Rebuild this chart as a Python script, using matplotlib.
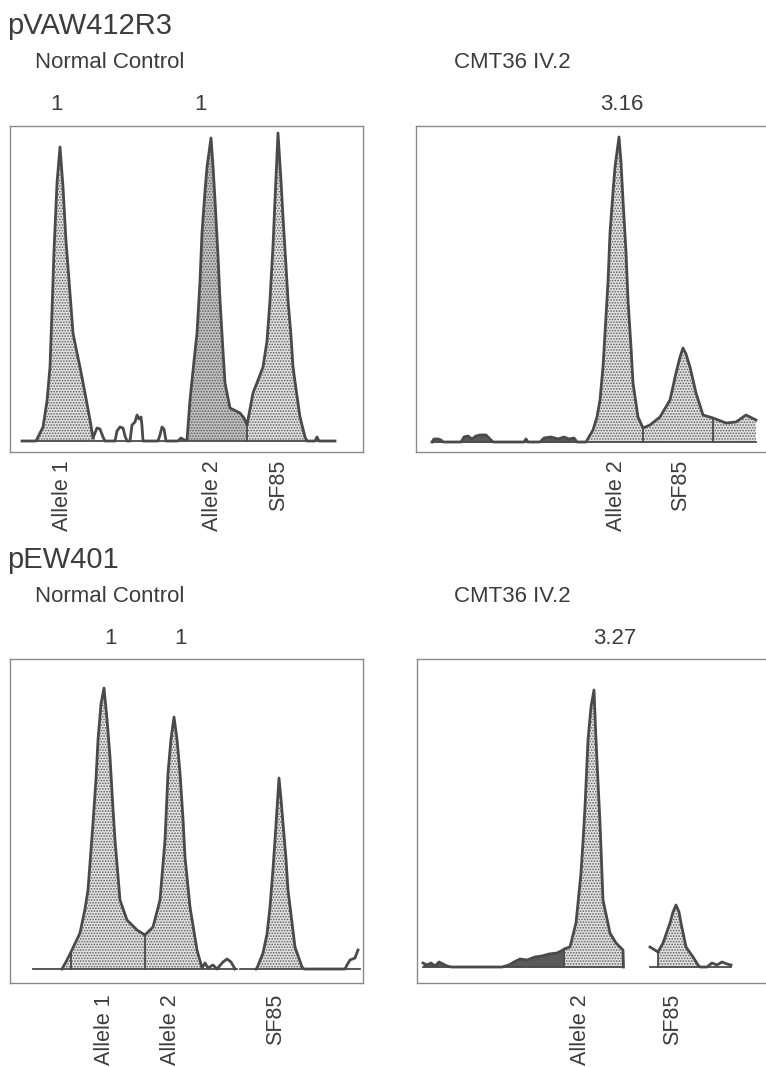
import numpy as np
import matplotlib
matplotlib.use("Agg")
import matplotlib.pyplot as plt

W, H = 766, 1067

# densitometer traces: x = distance along lane (px from box left), y = density (px above baseline)
tl_x = [12, 26, 33, 37, 40, 42, 44, 47, 50, 53, 56, 58, 63, 67, 70, 75, 80, 83, 85, 87, 90, 93, 95,
        105, 107, 110, 113, 115, 117, 120, 122, 125, 127, 129, 131, 132, 133, 148, 150, 152, 154, 156,
        168, 171, 174, 177, 180, 184, 187, 190, 192, 195, 197, 201, 203, 205, 208, 210, 213, 215, 220,
        230, 234, 237, 243, 250, 253, 257, 260, 263, 265, 268, 271, 273, 276, 278, 281, 283, 287, 290,
        295, 297, 305, 307, 309, 325]
tl_y = [0, 0, 14, 40, 74, 130, 190, 258, 294, 254, 200, 174, 108, 88, 74, 48, 21, 3, 8, 13, 12, 4, 0,
        0, 10, 14, 13, 5, 0, 0, 16, 19, 26, 22, 24, 15, 0, 0, 6, 14, 12, 0,
        0, 3, 1, 1, 41, 80, 108, 160, 208, 250, 274, 303, 275, 241, 185, 141, 90, 58, 33,
        28, 23, 16, 48, 66, 74, 100, 141, 195, 241, 308, 260, 224, 175, 141, 105, 74, 45, 24,
        4, 0, 0, 4, 0, 0]
tl_fill = [(26, 85), (177, 237), (237, 297)]
tl_dark = [(177, 237)]
tl_div = [237]
tl_base = [(12, 325)]
tl_noise = []

tr_x = [16, 18, 22, 25, 27, 45, 48, 52, 56, 60, 64, 70, 74, 77, 108, 110, 112, 124, 128, 135, 142,
        148, 153, 158, 161, 170, 177, 181, 184, 187, 189, 192, 194, 197, 199, 203, 205, 207, 210, 212,
        215, 217, 222, 227, 234, 244, 254, 260, 264, 267, 270, 274, 280, 287, 297, 310, 320, 330, 340]
tr_y = [0, 3, 3, 2, 0, 0, 5, 6, 3, 6, 7, 7, 3, 0, 0, 3, 0, 0, 4, 5, 3,
        5, 3, 4, 0, 0, 12, 25, 42, 75, 109, 160, 209, 250, 275, 305, 280, 242, 190, 142,
        95, 59, 25, 14, 17, 25, 42, 69, 85, 94, 88, 75, 49, 27, 24, 19, 20, 27, 22]
tr_fill = [(170, 340)]
tr_dark = []
tr_div = [227, 297]
tr_base = [(16, 340)]
tr_noise = [(16, 161)]

bl_x = [52, 57, 61, 70, 75, 78, 83, 86, 88, 91, 94, 97, 100, 103, 105, 110, 117, 127, 135, 143, 150,
        155, 158, 161, 164, 167, 170, 173, 175, 180, 187, 192, 195, 198, 203, 207, 213, 217, 221, 225,
        226, 246, 247, 253, 257, 260, 263, 265, 269, 271, 273, 276, 278, 285, 292, 294,
        335, 337, 340, 345, 348]
bl_y = [0, 9, 17, 36, 60, 79, 146, 190, 229, 265, 281, 250, 212, 160, 129, 69, 49, 39, 34, 42, 69,
        129, 196, 230, 252, 230, 196, 150, 112, 62, 19, 1, 6, 1, 4, 0, 7, 10, 7, 0,
        np.nan, 0, 1, 16, 35, 62, 100, 129, 191, 170, 146, 110, 79, 22, 2, 0,
        0, 4, 9, 11, 19]
bl_fill = [(52, 192), (247, 294)]
bl_dark = []
bl_div = [61, 135, 247]
bl_base = [(23, 227), (230, 350)]
bl_noise = []

br_x = [6, 10, 14, 18, 22, 26, 30, 34, 85, 92, 97, 103, 110, 118, 125, 132, 140, 146, 147, 153, 159,
        164, 166, 168, 171, 174, 177, 179, 181, 183, 186, 193, 199, 206, 206.5, 207,
        233, 241, 246, 253, 256, 259, 262, 264, 269, 276, 281, 283, 290, 295, 300, 305, 310, 314]
br_y = [4, 2, 4, 1, 5, 3, 1, 0, 0, 2, 5, 8, 7, 10, 11, 13, 14, 17, 18, 20, 44,
        94, 125, 160, 227, 260, 277, 227, 185, 144, 67, 34, 24, 17, 0, np.nan,
        20, 15, 24, 44, 55, 62, 55, 44, 20, 10, 2, 0, 0, 4, 2, 5, 3, 2]
br_fill = [(147, 206.5), (241, 281)]
br_dark = []
br_div = [147, 241]
br_base = [(6, 206), (233, 314)]
br_noise = [(6, 147)]

# panel boxes in image pixels: left, top, right, bottom, baseline
boxes = [(10, 126, 363, 452, 441), (416, 126, 780, 452, 442),
         (10, 659, 363, 983, 969), (417, 659, 780, 983, 967)]

probes = ["pVAW412R3", "pEW401"]
samples = ["Normal Control", "CMT36 IV.2"]
ratios_top = [["1", "1"], ["3.16"]]
ratios_bottom = [["1", "1"], ["3.27"]]
band_labels = [["Allele 1", "Allele 2", "SF85"], ["Allele 2", "SF85"],
               ["Allele 1", "Allele 2", "SF85"], ["Allele 2", "SF85"]]
band_pos = [[62, 212, 279], [617, 681], [105, 171, 276], [580, 673]]
ratio_pos = [[56, 200], [622], [110, 180], [615]]

plt.rcParams["font.family"] = ["Liberation Sans", "DejaVu Sans"]
plt.rcParams["hatch.linewidth"] = 0.8
txt = "#3c3c3c"
line_c = "#4a4a4a"

fig = plt.figure(figsize=(W / 100, H / 100), dpi=100)


def fpos(x, y):
    return x / W, 1 - y / H


def draw_panel(box, x, y, fills, dark, divs, bases, noise):
    left, top, right, bottom, base = box
    ax = fig.add_axes([left / W, 1 - bottom / H, (right - left) / W, (bottom - top) / H])
    ax.set_xlim(0, right - left)
    ax.set_ylim(-(bottom - base), base - top)
    ax.set_xticks([])
    ax.set_yticks([])
    for s in ax.spines.values():
        s.set_color("#8a8a8a")
        s.set_linewidth(1.0)
    x = np.asarray(x, float)
    y = np.asarray(y, float)
    ok = np.isfinite(y)
    for a, b in bases:
        ax.plot([a, b], [0, 0], color=line_c, lw=1.3, zorder=2)
    for a, b in fills:
        m = (x >= a) & (x <= b)
        col = "#c2c2c2" if (a, b) in dark else "#e2e2e2"
        ax.fill_between(x[m], 0, y[m], facecolor=col, edgecolor="#5e5e5e",
                        hatch="......", linewidth=0, zorder=1)
    for a, b in noise:
        m = (x >= a) & (x <= b)
        ax.fill_between(x[m], 0, y[m], color="#5a5a5a", linewidth=0, zorder=1)
    for d in divs:
        ax.plot([d, d], [0, np.interp(d, x[ok], y[ok])], color=line_c, lw=1.3, zorder=3)
    ax.plot(x, y, color=line_c, lw=2.0, zorder=3)
    return ax


draw_panel(boxes[0], tl_x, tl_y, tl_fill, tl_dark, tl_div, tl_base, tl_noise)
draw_panel(boxes[1], tr_x, tr_y, tr_fill, tr_dark, tr_div, tr_base, tr_noise)
draw_panel(boxes[2], bl_x, bl_y, bl_fill, bl_dark, bl_div, bl_base, bl_noise)
draw_panel(boxes[3], br_x, br_y, br_fill, br_dark, br_div, br_base, br_noise)

# headings
for row, dy in enumerate([0, 534]):
    fig.text(*fpos(7, 26 + dy), probes[row], fontsize=21, color=txt, ha="left", va="center")
    fig.text(*fpos(35, 63 + dy), samples[0], fontsize=16, color=txt, ha="left", va="center")
    fig.text(*fpos(454, 63 + dy), samples[1], fontsize=16, color=txt, ha="left", va="center")
    ratios = ratios_top if row == 0 else ratios_bottom
    for col in range(2):
        for r, xp in zip(ratios[col], ratio_pos[row * 2 + col]):
            fig.text(*fpos(xp, 104 + dy), r, fontsize=16, color=txt, ha="center", va="center")

# band labels under the lanes
for i, (labels, xs) in enumerate(zip(band_labels, band_pos)):
    y0 = 460 if i < 2 else 994
    for lab, xp in zip(labels, xs):
        fig.text(*fpos(xp, y0), lab, fontsize=15.5, color=txt, rotation=90,
                 ha="center", va="top")

fig.savefig("out.png", dpi=100)
